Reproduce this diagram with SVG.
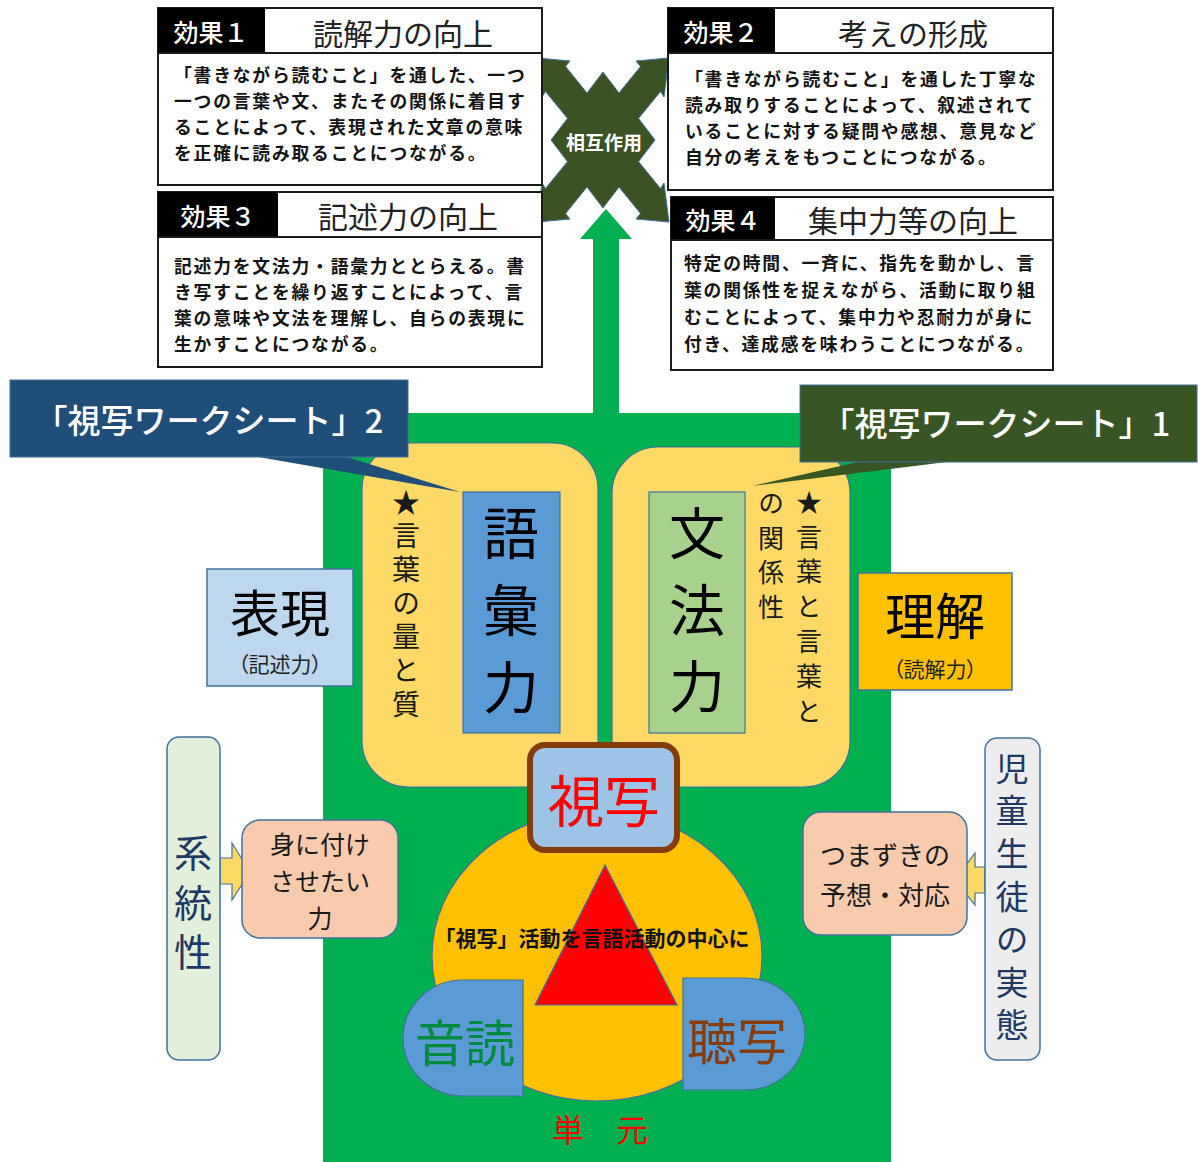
<svg xmlns="http://www.w3.org/2000/svg" width="1198" height="1162" viewBox="0 0 1198 1162">
<defs>
<style>
text { font-family: "Noto Sans CJK JP", "Noto Sans", sans-serif; }
.c { text-anchor: middle; dominant-baseline: central; }
.body { font-size: 17.8px; letter-spacing: 1.8px; font-weight: 700; fill: #141414; dominant-baseline: central; }
.hd { font-size: 25px; fill: #fff; font-weight: 500; text-anchor: middle; dominant-baseline: central; }
.ttl { font-size: 30px; fill: #222; text-anchor: middle; dominant-baseline: central; }
.frame { fill: #fff; stroke: #1a1a1a; stroke-width: 2; }
.hdbg { fill: #000; }
.ol { stroke: #41719C; stroke-width: 1.2; }
.yel { fill: #FFD966; stroke: #41719C; stroke-width: 1.2; }
.peach { fill: #F8CBAD; stroke: #41719C; stroke-width: 1.5; }
.vt { writing-mode: vertical-rl; text-anchor: start; dominant-baseline: central; }
.mid { font-size: 25px; fill: #1a1a1a; text-anchor: middle; dominant-baseline: central; }
.callt { font-size: 33px; fill: #fff; font-weight: 500; text-anchor: middle; dominant-baseline: central; }
.palt { font-feature-settings: "palt"; }
</style>
</defs>
<rect width="1198" height="1162" fill="#fff"/>

<!-- background green area -->
<rect id="base" x="323" y="413" width="568" height="749" fill="#00B050"/>

<g id="connectors">
  <polygon points="606,209 632,239 619,239 619,415 593,415 593,239 580,239" fill="#00B050"/>
  <polygon points="220,858 232,858 232,843 250,872 232,900 232,884 220,884" class="yel"/>
  <polygon points="985,867 975,867 975,853 955,880 975,905 975,893 985,893" class="yel"/>
</g>

<g id="interaction">
  <polygon fill="#3B5323" stroke="#41719C" stroke-width="1" points="603,72 619,93 640.5,66.5 636,61 669,58 664,97 660.5,91.5 638.5,118.4 655,140 638.5,161.6 660.5,188.5 664,183 669,222 636,219 640.5,213.5 619,187 603,208 587,187 565.5,213.5 570,219 537,222 542,183 545.5,188.5 567.5,161.6 551,140 567.5,118.4 545.5,91.5 542,97 537,58 570,61 565.5,66.5 587,93"/>
  <text x="604" y="141" class="c" font-size="19" font-weight="700" fill="#fff">相互作用</text>
</g>

<g id="effect1">
  <rect x="158" y="8" width="384" height="177" class="frame"/>
  <rect x="158" y="8" width="107" height="45" class="hdbg"/>
  <line x1="158" y1="53" x2="542" y2="53" stroke="#1a1a1a" stroke-width="2"/>
  <text x="211" y="31" class="hd">効果１</text>
  <text x="403" y="32" class="ttl">読解力の向上</text>
  <text x="174" y="74" class="body">「書きながら読むこと」を通した、一つ</text>
  <text x="174" y="100" class="body">一つの言葉や文、またその関係に着目す</text>
  <text x="174" y="126" class="body">ることによって、表現された文章の意味</text>
  <text x="174" y="152" class="body">を正確に読み取ることにつながる。</text>
</g>

<g id="effect2">
  <rect x="668" y="8" width="385" height="182" class="frame"/>
  <rect x="668" y="8" width="107" height="45" class="hdbg"/>
  <line x1="668" y1="53" x2="1053" y2="53" stroke="#1a1a1a" stroke-width="2"/>
  <text x="721" y="31" class="hd">効果２</text>
  <text x="913" y="32" class="ttl">考えの形成</text>
  <text x="685" y="78" class="body">「書きながら読むこと」を通した丁寧な</text>
  <text x="685" y="104" class="body">読み取りすることによって、叙述されて</text>
  <text x="685" y="130" class="body">いることに対する疑問や感想、意見など</text>
  <text x="685" y="156" class="body">自分の考えをもつことにつながる。</text>
</g>

<g id="effect3">
  <rect x="158" y="192" width="384" height="175" class="frame"/>
  <rect x="158" y="192" width="120" height="45" class="hdbg"/>
  <line x1="158" y1="237" x2="542" y2="237" stroke="#1a1a1a" stroke-width="2"/>
  <text x="218" y="215" class="hd">効果３</text>
  <text x="408" y="215" class="ttl">記述力の向上</text>
  <text x="174" y="265" class="body">記述力を文法力・語彙力ととらえる。書</text>
  <text x="174" y="291" class="body">き写すことを繰り返すことによって、言</text>
  <text x="174" y="317" class="body">葉の意味や文法を理解し、自らの表現に</text>
  <text x="174" y="343" class="body">生かすことにつながる。</text>
</g>

<g id="effect4">
  <rect x="671" y="197" width="382" height="173" class="frame"/>
  <rect x="671" y="197" width="104" height="43" class="hdbg"/>
  <line x1="671" y1="240" x2="1053" y2="240" stroke="#1a1a1a" stroke-width="2"/>
  <text x="723" y="219" class="hd">効果４</text>
  <text x="913" y="219" class="ttl">集中力等の向上</text>
  <text x="684" y="262" class="body">特定の時間、一斉に、指先を動かし、言</text>
  <text x="684" y="289" class="body">葉の関係性を捉えながら、活動に取り組</text>
  <text x="684" y="316" class="body">むことによって、集中力や忍耐力が身に</text>
  <text x="684" y="343" class="body">付き、達成感を味わうことにつながる。</text>
</g>

<g id="vocab-panel">
  <rect x="362" y="443" width="236" height="344" rx="46" class="yel"/>
  <rect x="463" y="492" width="97" height="241" fill="#5B9BD5" stroke="#41719C" stroke-width="1.2"/>
  <text x="511" y="505" class="vt" style="font-size:56px; letter-spacing:21px" fill="#000">語彙力</text>
  <text x="406" y="488" class="vt" style="font-size:28px; letter-spacing:5.7px" fill="#1a1a1a">★言葉の量と質</text>
</g>

<g id="grammar-panel">
  <rect x="612" y="447" width="238" height="340" rx="46" class="yel"/>
  <rect x="649" y="492" width="96" height="241" fill="#A9D18E" stroke="#41719C" stroke-width="1.2"/>
  <text x="697" y="505" class="vt" style="font-size:56px; letter-spacing:20.5px" fill="#000">文法力</text>
  <text x="809" y="489" class="vt" style="font-size:26px; letter-spacing:8.8px" fill="#1a1a1a">★言葉と言葉と</text>
  <text x="771" y="490" class="vt" style="font-size:26px; letter-spacing:8.7px" fill="#1a1a1a">の関係性</text>
</g>

<g id="callout2">
  <polygon points="247,455 340,455 460,492" fill="#1F4E79"/>
  <rect x="10" y="380" width="398" height="77" fill="#1F4E79" stroke="#41719C" stroke-width="1"/>
  <text x="209" y="419" class="callt">「視写ワークシート」2</text>
</g>

<g id="callout1">
  <polygon points="867,460 963,460 752,486" fill="#375623"/>
  <rect x="800" y="385" width="397" height="77" fill="#375623" stroke="#41719C" stroke-width="1"/>
  <text x="996" y="422" class="callt">「視写ワークシート」1</text>
</g>

<g id="expression">
  <rect x="207" y="569" width="146" height="117" fill="#BDD7EE" stroke="#41719C" stroke-width="1.5"/>
  <text x="280" y="610" class="c" font-size="50" fill="#000">表現</text>
  <text x="280" y="663" class="c palt" font-size="21" fill="#222">（記述力）</text>
</g>

<g id="understanding">
  <rect x="858" y="573" width="154" height="117" fill="#FFC000" stroke="#41719C" stroke-width="1.5"/>
  <text x="935" y="613" class="c" font-size="50" fill="#000">理解</text>
  <text x="935" y="668" class="c palt" font-size="21" fill="#222">（読解力）</text>
</g>

<g id="system">
  <rect x="167" y="737" width="53" height="323" rx="12" fill="#E2EFDA" stroke="#41719C" stroke-width="1.5"/>
  <text x="193" y="834" class="vt" style="font-size:38px; letter-spacing:11.5px" fill="#203864">系統性</text>
</g>

<g id="abilities">
  <rect x="242" y="820" width="156" height="118" rx="18" class="peach"/>
  <text class="mid"><tspan x="320" y="843">身に付け</tspan><tspan x="320" y="880">させたい</tspan><tspan x="320" y="917">力</tspan></text>
</g>

<g id="students">
  <rect x="985" y="738" width="55" height="322" rx="12" fill="#EDEDED" stroke="#41719C" stroke-width="1.5"/>
  <text x="1012" y="751.5" class="vt" style="font-size:33px; letter-spacing:9.8px" fill="#203864">児童生徒の実態</text>
</g>

<g id="stumble">
  <rect x="803" y="812" width="164" height="123" rx="18" class="peach"/>
  <text class="mid" style="font-size:26px"><tspan x="885" y="853">つまずきの</tspan><tspan x="885" y="893">予想・対応</tspan></text>
</g>

<g id="unit">
  <ellipse cx="597" cy="956" rx="165" ry="145" fill="#FFC000" stroke="#41719C" stroke-width="1.2"/>
  <polygon points="605,865 677,1005 535,1005" fill="#FF0000" class="ol"/>
  <text x="592" y="937" class="c" font-size="21" font-weight="700" fill="#111">「視写」活動を言語活動の中心に</text>
  <text x="600" y="1128" class="c" font-size="32" fill="#FF0000">単　元</text>
</g>

<g id="shisha">
  <rect x="530" y="745" width="147" height="105" rx="15" fill="#9DC3E6" stroke="#843C0C" stroke-width="6"/>
  <text x="604" y="797" class="c" font-size="56" fill="#FF0000">視写</text>
</g>

<g id="ondoku">
  <path d="M523,980 H463 A60,58 0 0 0 463,1096 H523 Z" fill="#5B9BD5" class="ol"/>
  <text x="465" y="1040" class="c" font-size="50" fill="#008A3E">音読</text>
</g>

<g id="choosha">
  <path d="M683,978 H745 A60,56 0 0 1 745,1090 H683 Z" fill="#5B9BD5" class="ol"/>
  <text x="737" y="1038" class="c" font-size="50" fill="#843C0C">聴写</text>
</g>
</svg>
